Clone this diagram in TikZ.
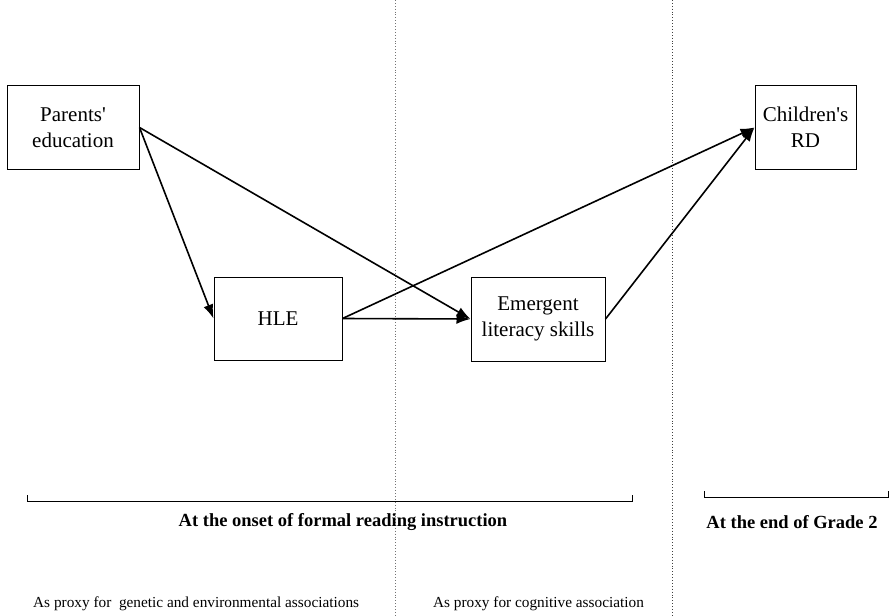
\documentclass[tikz,border=0pt]{standalone}
\usepackage{fontspec}
\setmainfont{Liberation Serif}
\usetikzlibrary{arrows.meta,positioning}

\begin{document}
\begin{tikzpicture}[x=1pt, y=-1pt,
  box/.style={draw, line width=1pt, align=center, inner sep=0pt, font=\fontsize{21}{26}\selectfont},
  link/.style={-{Latex[length=14pt, width=10pt]}, line width=1.6pt},
  phase/.style={font=\fontsize{18.5}{22}\selectfont\bfseries},
  proxy/.style={font=\fontsize{15.3}{18}\selectfont}]
\useasboundingbox (0,0) rectangle (890,615);
% time separators
\draw[black!55, dotted, line width=0.9pt] (395,0) -- (395,615);
\draw[black!75, dotted, line width=0.9pt] (672,0) -- (672,615);
% variables
\node[box, minimum width=132pt, minimum height=83pt] (parents) at (73,127.5) {Parents\textquotesingle\\education};
\node[box, minimum width=128pt, minimum height=83pt] (hle) at (278,318.5) {HLE};
\node[box, minimum width=134pt, minimum height=84pt] (emergent) at (538,319) {Emergent\\literacy skills};
\node[box, minimum width=101pt, minimum height=83pt] (rd) at (805.5,127.5) {Children\textquotesingle s\\RD};
% paths
\draw[link] (parents.east) -- (hle.west);
\draw[link] (parents.east) -- (emergent.west);
\draw[link] (hle.east) -- (emergent.west);
\draw[link] (hle.east) -- (rd.west);
\draw[link] (emergent.east) -- (rd.west);
% time brackets
\draw[line width=0.9pt] (27,495) -- (27,501) -- (632,501) -- (632,495);
\draw[line width=0.9pt] (704,491) -- (704,497) -- (888,497) -- (888,491);
\node[phase] (onset) at (343,522) {At the onset of formal reading instruction};
\node[phase] (grade) at (792,522) {At the end of Grade 2};
% proxies
\node[proxy, anchor=west, inner sep=0pt] (genenv) at (33,604) {As proxy for\ \ genetic and environmental associations};
\node[proxy, inner sep=0pt] (cogn) at (538.5,604) {As proxy for cognitive association};
\end{tikzpicture}
\end{document}
